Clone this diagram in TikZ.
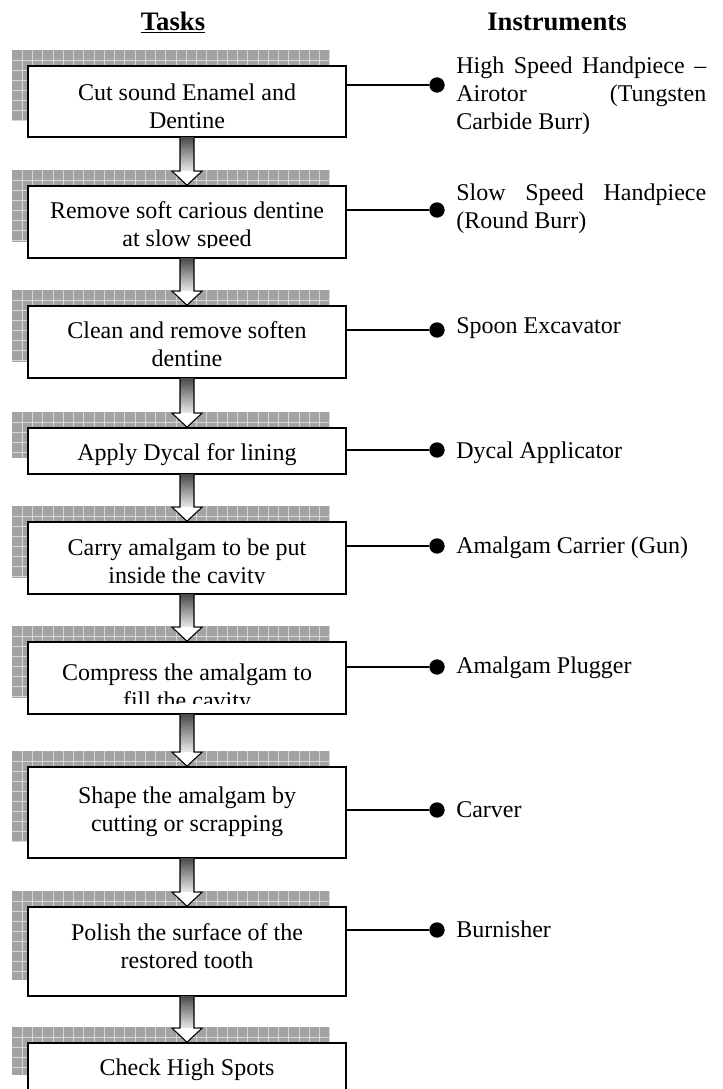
\documentclass[tikz,border=0pt]{standalone}
\usepackage{fontspec}
\setmainfont{Liberation Serif}
\usetikzlibrary{calc}
\tikzset{
  boxst/.style={draw=black, line width=1.2pt, fill=white, inner sep=0pt, minimum width=238.5pt},
  shadowfill/.style={fill=black!36},
  gridln/.style={draw=black!16, line width=0.45pt},
  dot/.style={circle, fill=black, inner sep=0pt, minimum size=11.5pt},
  conn/.style={draw=black, line width=1.1pt},
  txt/.style={inner sep=0pt, font=\fontsize{18}{21}\selectfont},
  head/.style={inner sep=0pt, font=\fontsize{20}{24}\selectfont\bfseries},
}
\newcommand\ctext[2]{\vtop{\halign{\hfil##\hfil\cr #1\cr #2\cr}}}
\newcommand\rtext[1]{\vtop{\hsize=187.5pt #1}}
\newcommand\taskbox[3]{%
  \pgfmathsetmacro\bh{(#3-#2)*0.75}%
  \pgfmathsetmacro\bc{(#2+#3)/2}%
  \fill[shadowfill] (12,#2-16) rectangle (330,#3-16);
  \foreach \i in {1,...,31} \draw[gridln] (12+\i*10.25,#2-16) -- (12+\i*10.25,#3-16);
  \pgfmathtruncatemacro\nh{(#3-#2)/10}%
  \foreach \j in {1,...,\nh} \draw[gridln] (12,#2-16+\j*10) -- (330,#2-16+\j*10);
  \node[boxst, minimum height=\bh pt] (#1) at (187,\bc) {};
}
\newcommand\flowarrow[2]{%
  \shade[top color=black!70, bottom color=black!8] ($(#1.south)+(-7,0)$) rectangle ($(#2.north)+(7,-14)$);
  \fill[white] ($(#2.north)+(-15,-14)$) -- ($(#2.north)+(15,-14)$) -- (#2.north) -- cycle;
  \draw[line width=0.8pt, line join=miter] ($(#1.south)+(-7,0)$) -- ($(#2.north)+(-7,-14)$) -- ($(#2.north)+(-15,-14)$) -- (#2.north) -- ($(#2.north)+(15,-14)$) -- ($(#2.north)+(7,-14)$) -- ($(#1.south)+(7,0)$);
}
\begin{document}
\begin{tikzpicture}[x=0.75pt, y=-0.75pt]
\useasboundingbox (0,0) rectangle (722,1089);
\clip (0,0) rectangle (722,1089);
\fill[white] (0,0) rectangle (722,1089);

% headers
\node[head, anchor=base] (h1) at (173,30) {\underline{Tasks}};
\node[head, anchor=base] (h2) at (557,30) {Instruments};

% boxes
\taskbox{b1}{66}{137}
\taskbox{b2}{186}{258}
\taskbox{b3}{306}{378}
\taskbox{b4}{428}{474}
\taskbox{b5}{522}{594}
\taskbox{b6}{642}{714}
\taskbox{b7}{767}{858}
\taskbox{b8}{907}{996}
\taskbox{b9}{1043}{1091}

% arrows
\flowarrow{b1}{b2}
\flowarrow{b2}{b3}
\flowarrow{b3}{b4}
\flowarrow{b4}{b5}
\flowarrow{b5}{b6}
\flowarrow{b6}{b7}
\flowarrow{b7}{b8}
\flowarrow{b8}{b9}

% task texts
\node[txt, anchor=base] (t1) at (187,100) {\ctext{Cut sound Enamel and}{Dentine}};
\begin{scope}
  \clip (28,186) rectangle (346,247);
  \node[txt, anchor=base] (t2) at (187,218) {\ctext{Remove soft carious dentine}{at slow speed}};
\end{scope}
\node[txt, anchor=base] (t3) at (187,338) {\ctext{Clean and remove soften}{dentine}};
\node[txt, anchor=base] (t4) at (187,460) {Apply Dycal for lining};
\begin{scope}
  \clip (28,522) rectangle (346,583);
  \node[txt, anchor=base] (t5) at (187,555) {\ctext{Carry amalgam to be put}{inside the cavity}};
\end{scope}
\begin{scope}
  \clip (28,642) rectangle (346,703);
  \node[txt, anchor=base] (t6) at (187,680) {\ctext{Compress the amalgam to}{fill the cavity}};
\end{scope}
\node[txt, anchor=base] (t7) at (187,803) {\ctext{Shape the amalgam by}{cutting or scrapping}};
\node[txt, anchor=base] (t8) at (187,940) {\ctext{Polish the surface of the}{restored tooth}};
\node[txt, anchor=base] (t9) at (187,1075) {Check High Spots};

% dots and connectors
\node[dot] (d1) at (437,85) {};
\node[dot] (d2) at (437,210) {};
\node[dot] (d3) at (437,330) {};
\node[dot] (d4) at (437,450) {};
\node[dot] (d5) at (437,546) {};
\node[dot] (d6) at (437,667) {};
\node[dot] (d7) at (437,810) {};
\node[dot] (d8) at (437,930) {};
\draw[conn] (b1.east |- d1) -- (d1);
\draw[conn] (b2.east |- d2) -- (d2);
\draw[conn] (b3.east |- d3) -- (d3);
\draw[conn] (b4.east |- d4) -- (d4);
\draw[conn] (b5.east |- d5) -- (d5);
\draw[conn] (b6.east |- d6) -- (d6);
\draw[conn] (b7.east |- d7) -- (d7);
\draw[conn] (b8.east |- d8) -- (d8);

% instruments
\node[txt, anchor=base west] (i1) at (456,73) {\rtext{\hbox to\hsize{High\hfill Speed\hfill Handpiece\hfill –}\hbox to\hsize{Airotor\hfill (Tungsten}\hbox{Carbide Burr)}}};
\node[txt, anchor=base west] (i2) at (456,200) {\rtext{\hbox to\hsize{Slow\hfill Speed\hfill Handpiece}\hbox{(Round Burr)}}};
\node[txt, anchor=base west] (i3) at (456,333) {Spoon Excavator};
\node[txt, anchor=base west] (i4) at (456,458) {Dycal Applicator};
\node[txt, anchor=base west] (i5) at (456,553) {Amalgam Carrier (Gun)};
\node[txt, anchor=base west] (i6) at (456,673) {Amalgam Plugger};
\node[txt, anchor=base west] (i7) at (456,817) {Carver};
\node[txt, anchor=base west] (i8) at (456,937) {Burnisher};
\end{tikzpicture}
\end{document}
